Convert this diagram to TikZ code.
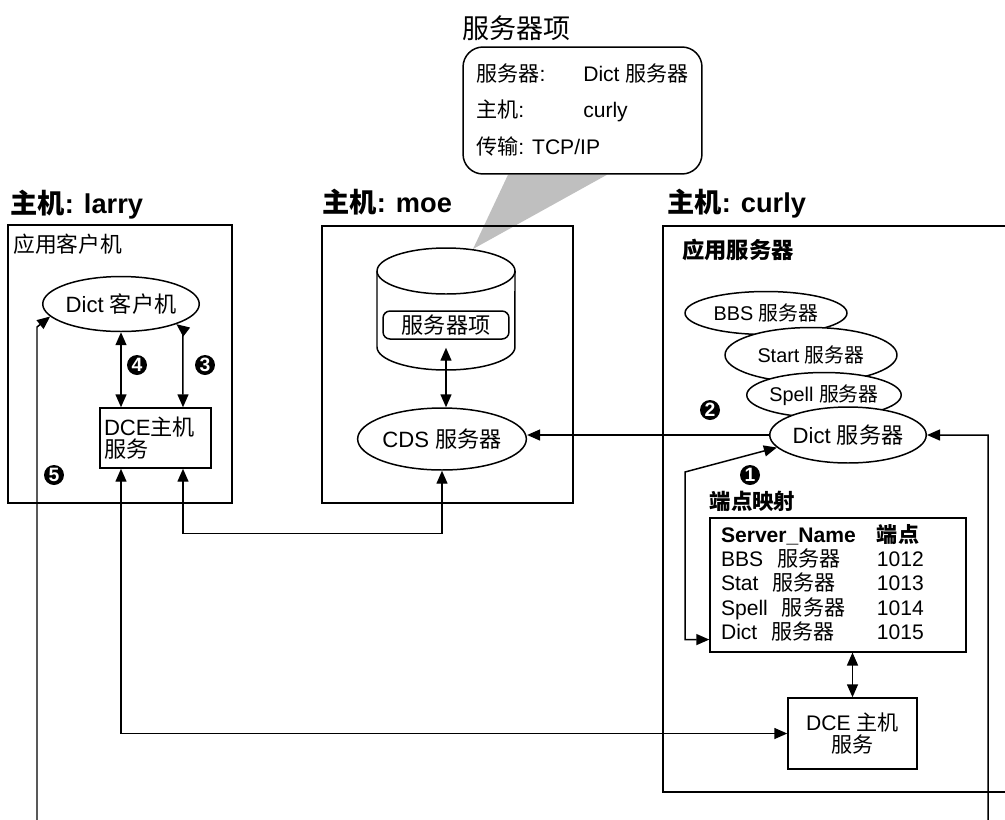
\documentclass[tikz,border=0pt]{standalone}
\usepackage{fontspec}
\setmainfont{Liberation Sans}
\newfontfamily\zh{Noto Sans CJK SC}
\usepackage{tikz}
\usetikzlibrary{arrows.meta, positioning, shapes.geometric, backgrounds}

\begin{document}
\begin{tikzpicture}[
    x=0.02cm, y=-0.02cm,
    host/.style={rectangle, draw=black, line width=0.85pt, inner sep=0pt},
    htitle/.style={font=\fontsize{15.5}{18}\selectfont\bfseries, inner sep=0pt, anchor=base west},
    lbl/.style={font=\fontsize{12.4}{15}\selectfont, inner sep=0pt, anchor=west},
    proc/.style={ellipse, draw=black, line width=0.85pt, fill=white, inner sep=0pt, font=\fontsize{12.6}{15}\selectfont},
    srv/.style={proc, font=\fontsize{11.3}{13}\selectfont},
    blk/.style={rectangle, draw=black, line width=0.85pt, fill=white, font=\fontsize{12.6}{12.3}\selectfont},
    num/.style={circle, fill=black, text=white, inner sep=0pt, minimum size=0.4cm, font=\fontsize{11}{11}\selectfont\bfseries},
    e/.style={-{Triangle[length=2.6mm, width=2.2mm]}, line width=0.85pt},
    ee/.style={{Triangle[length=2.6mm, width=2.2mm]}-{Triangle[length=2.6mm, width=2.2mm]}, line width=0.85pt},
]
\useasboundingbox (0,0) rectangle (1005,819);

% hosts
\node[host, minimum width=4.48cm, minimum height=5.56cm] (larry) at (120,364) {};
\node[host, minimum width=5.02cm, minimum height=5.54cm] (moe) at (447.5,364.5) {};
\node[host, minimum width=7.04cm, minimum height=11.32cm] (curly) at (839,509) {};
\node[htitle] (larryt) at (10,213) {{\zh 主机}: larry};
\node[htitle] (moet) at (322,212) {{\zh 主机}: moe};
\node[htitle] (curlyt) at (667,212) {{\zh 主机}: curly};
\node[lbl] (appc) at (13,244) {\zh 应用客户机};
\node[lbl, font=\fontsize{12.7}{15}\selectfont\bfseries] (apps) at (682,250) {\zh 应用服务器};

% server entry callout
\node[draw=black, line width=0.85pt, rounded corners=0.4cm, fill=white, minimum width=4.78cm, minimum height=2.54cm,
      inner sep=0pt, font=\fontsize{12}{20.7}\selectfont] (callout) at (582.5,110.5)
    {\begin{tabular}{@{}p{2.14cm}@{}l@{}}
     {\zh 服务器}: & Dict {\zh 服务器}\\
     {\zh 主机}: & curly\\
     \multicolumn{2}{@{}l@{}}{{\zh 传输}: TCP/IP}
     \end{tabular}};
\node[font=\fontsize{15.4}{18}\selectfont, inner sep=0pt, above right=0.1cm and 0cm of callout.north west] (calloutt) {\zh 服务器项};

% directory database
\coordinate (dbtop) at (473,249);
\begin{scope}[on background layer]
  \fill[black!25] ([xshift=-1.49cm]callout.south) -- (dbtop) -- ([xshift=0.49cm]callout.south) -- cycle;
\end{scope}
\draw[line width=0.85pt, fill=white] (377,271) -- (377,347) arc[start angle=180, end angle=360, x radius=1.38cm, y radius=0.46cm]
  -- (515,271) arc[start angle=0, end angle=180, x radius=1.38cm, y radius=0.46cm] -- cycle;
\draw[line width=0.85pt] (377,271) arc[start angle=180, end angle=360, x radius=1.38cm, y radius=0.46cm];
\node[draw=black, line width=0.85pt, rounded corners=4pt, minimum width=2.52cm, minimum height=0.56cm, inner sep=0pt,
      font=\fontsize{12.6}{15}\selectfont] (entry) at (446,325) {\zh 服务器项};
\node[proc, minimum width=2.68cm, minimum height=1.24cm] (cds) at (442,439) {CDS {\zh 服务器}};

% client side
\node[proc, minimum width=2.34cm, minimum height=1.1cm] (dictc) at (121,304) {Dict {\zh 客户机}};
\node[blk, text width=2.06cm, inner xsep=0.08cm, minimum height=1.2cm, align=left] (dcel) at (155.5,438) {DCE{\zh 主机}\\{\zh 服务}};

% server side
\node[srv, minimum width=3.24cm, minimum height=0.86cm] (bbs) at (766,313) {BBS {\zh 服务器}};
\node[srv, minimum width=3.44cm, minimum height=1.1cm] (start) at (811,355) {Start {\zh 服务器}};
\node[srv, minimum width=3.08cm, minimum height=0.9cm] (spell) at (824,395) {Spell {\zh 服务器}};
\node[proc, minimum width=2.8cm, minimum height=1.12cm] (dicts) at (848,435) {Dict {\zh 服务器}};
\node[blk, text width=4.68cm, inner xsep=0.22cm, minimum height=2.52cm, align=left, font=\fontsize{12}{12.5}\selectfont] (emap) at (838,585)
    {\begin{tabular}{@{}p{3.12cm}@{}l@{}}
     \textbf{Server\_Name} & \textbf{\zh 端点}\\
     BBS\ \ {\zh 服务器} & 1012\\
     Stat\ \ {\zh 服务器} & 1013\\
     Spell\ \ {\zh 服务器} & 1014\\
     Dict\ \ {\zh 服务器} & 1015
     \end{tabular}};
\node[lbl, font=\fontsize{12.2}{15}\selectfont\bfseries, above right=0.1cm and 0cm of emap.north west] (emapt) {\zh 端点映射};
\node[blk, minimum width=2.58cm, minimum height=1.42cm, align=center, font=\fontsize{12}{13}\selectfont] (dcer) at (852.5,733.5) {DCE {\zh 主机}\\{\zh 服务}};

% step numbers
\node[num] (n1) at (750,475) {1};
\node[num] (n2) at (710,410) {2};
\node[num] (n3) at (205,365) {3};
\node[num] (n4) at (137,365) {4};
\node[num] (n5) at (54,475) {5};

% connectors
\draw[ee] (entry.south) ++(0,8) -- (entry.south |- cds.north);
\draw[e] (dicts.west) -- (dicts.west -| cds.east);
\draw[ee] (dictc) -- (dictc |- dcel.north);
\draw[ee] ([xshift=0.55cm]dcel.north) -- ++(0,-78) -- (dictc.-20);
\draw[ee] ([xshift=0.55cm]dcel.south) -- ++(0,65) -| (cds.south);
\draw[ee] (dictc |- dcel.south) |- (dcer.west);
\draw[ee] (dicts.190) -- (685,472) |- ([yshift=0.26cm]emap.south west);
\draw[ee] (dcer |- emap.south) -- (dcer.north);
\draw[ee] (dictc.190) -- (37,327) |- (988,830) |- (dicts.east);
\end{tikzpicture}
\end{document}
